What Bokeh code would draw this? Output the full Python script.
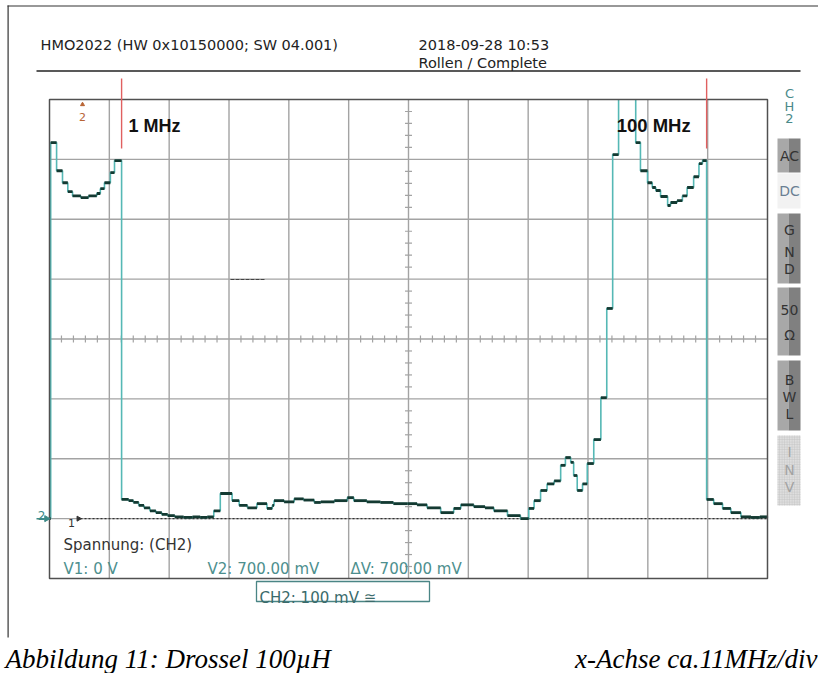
import math
from bokeh.plotting import figure
from bokeh.models import Range1d
from bokeh.core.properties import value
from bokeh.embed import file_html
from bokeh.resources import INLINE

# ---------------- data ----------------
# spectrum trace: step levels, frequency in MHz (start of each level), level in mV
freq_mhz = [-11.2, -11.0, -10.0, -9.0, -8.1, -7.3, -5.9, -4.6, -3.2, -2.6, -1.9, -0.9, -0.2,
            1.0, 2.2, 3.0, 3.9, 4.8, 5.8, 6.8, 7.8, 8.8, 10.0, 11.5, 13.0, 14.3, 15.5,
            16.6, 17.7, 19.7, 20.9, 22.3, 23.9, 25.6, 26.5, 26.8, 28.5, 30.2, 31.8, 33.6,
            34.7, 37.0, 39.2, 40.3, 42.5, 44.8, 47.0, 49.4, 51.0, 52.7, 55.0, 57.2, 58.4,
            60.6, 62.5, 64.0, 66.3, 68.5, 69.9, 70.8, 71.9, 73.0, 74.2, 75.3, 76.1, 77.0,
            77.5, 78.1, 79.0, 79.8, 80.9, 82.1, 83.1, 84.1, 85.1, 88.0, 88.8, 90.0, 90.8,
            91.4, 92.2, 93.4, 93.9, 95.0, 95.9, 96.7, 97.8, 98.7, 99.3, 100.0, 101.2,
            102.7, 104.1, 105.8, 107.5, 109.0, 110.3]
level_mv = [0, 628, 581, 561, 546, 539, 536, 539, 543, 551, 561, 578, 598,
            32, 30, 27, 22, 18, 13, 10, 7, 5, 3, 2, 3, 2, 3,
            13, 42, 30, 22, 18, 25, 17, 22, 30, 28, 33, 31, 27,
            28, 30, 35, 30, 28, 27, 25, 25, 23, 18, 10, 17, 23,
            20, 18, 13, 5, 0, 17, 30, 47, 58, 63, 89, 102, 94,
            72, 47, 58, 92, 132, 202, 351, 608, 800, 628, 581, 561, 553,
            548, 538, 523, 528, 531, 539, 553, 571, 593, 598, 32, 25,
            17, 10, 3, 2, 3, 2]

cursor_mhz = [1, 100]
cursor_labels = ["1 MHz", "100 MHz"]

x_min_mhz, x_max_mhz = -11.2, 110.3
y_min_mv, y_max_mv = -100, 700
x_divs, y_divs, minor_per_div = 12, 8, 5

header_left = "HMO2022 (HW 0x10150000; SW 04.001)"
header_date = "2018-09-28 10:53"
header_mode = "Rollen / Complete"
meas_title = "Spannung: (CH2)"
meas_values = ["V1: 0 V", "V2: 700.00 mV", "\u0394V: 700.00 mV"]
channel_box = "CH2: 100 mV \u2245"
side_buttons = [["AC"], ["DC"], ["G", "N", "D"], ["50", "\u03a9"], ["B", "W", "L"], ["I", "N", "V"]]
caption_left = "Abbildung 11: Drossel 100\u00b5H"
caption_right = "x-Achse ca.11MHz/div"

# ---------------- layout (reference pixel coordinates) ----------------
OX, OY, W, H = 0, 0, 818, 673
GL, GR, GT, GB = 49, 767, 99, 578

def px_to_f(px):
    return x_min_mhz + (px - GL) * (x_max_mhz - x_min_mhz) / (GR - GL)

def f_to_px(f):
    return GL + (f - x_min_mhz) * (GR - GL) / (x_max_mhz - x_min_mhz)

def py_to_mv(py):
    return y_max_mv - (py - GT) * (y_max_mv - y_min_mv) / (GB - GT)

def mv_to_py(mv):
    return GT + (y_max_mv - mv) * (GB - GT) / (y_max_mv - y_min_mv)

p = figure(width=W, height=H, x_range=Range1d(OX, OX + W), y_range=Range1d(OY + H, OY),
           x_axis_location=None, y_axis_location=None, toolbar_location=None,
           output_backend="svg", min_border=0, outline_line_color=None,
           background_fill_color="white", border_fill_color="white")
p.grid.visible = False
p.extra_x_ranges = {"f": Range1d(px_to_f(OX), px_to_f(OX + W))}
p.extra_y_ranges = {"mv": Range1d(py_to_mv(OY + H), py_to_mv(OY))}

def txt(x, y, s, size, color, font="DejaVu Sans", style="normal", align="left", baseline="alphabetic"):
    p.text(x=[x], y=[y], text=[s], text_font=value(font), text_font_size=value(f"{size}px"),
           text_color=color, text_font_style=value(style), text_align=value(align),
           text_baseline=value(baseline))

GRID_C = "#a3a3a3"
dx = (GR - GL) / x_divs
dy = (GB - GT) / y_divs

# grid
vx = [GL + k * dx for k in range(1, x_divs)]
p.segment(x0=vx, y0=[GT] * len(vx), x1=vx, y1=[GB] * len(vx), line_color=GRID_C, line_width=1.4)
hy = [GT + k * dy for k in range(1, y_divs)]
p.segment(x0=[GL] * len(hy), y0=hy, x1=[GR] * len(hy), y1=hy, line_color=GRID_C, line_width=1.4)

# minor ticks on the centre lines
cx = GL + (x_divs // 2) * dx
cy = GT + (y_divs // 2) * dy
ty = [GT + j * dy / minor_per_div for j in range(1, y_divs * minor_per_div) if j % minor_per_div]
p.segment(x0=[cx - 3.5] * len(ty), y0=ty, x1=[cx + 3.5] * len(ty), y1=ty, line_color=GRID_C, line_width=1.2)
tx = [GL + j * dx / minor_per_div for j in range(1, x_divs * minor_per_div) if j % minor_per_div]
p.segment(x0=tx, y0=[cy - 3.5] * len(tx), x1=tx, y1=[cy + 3.5] * len(tx), line_color=GRID_C, line_width=1.2)

# ground reference (dashed) and small mark in the middle
zy = mv_to_py(0)
p.segment(x0=[80], y0=[zy], x1=[GR], y1=[zy], line_color="#333333", line_width=1.1, line_dash="2 2")
p.segment(x0=[230], y0=[279], x1=[265], y1=[279], line_color="#444444", line_width=1, line_dash="4 1")

# trace
p.step(x=freq_mhz, y=level_mv, mode="after", line_color="#55b8b5", line_width=1.6,
       x_range_name="f", y_range_name="mv")
p.segment(x0=freq_mhz[:-1], y0=level_mv[:-1], x1=freq_mhz[1:], y1=level_mv[:-1],
          line_color="#143a32", line_width=2.8, x_range_name="f", y_range_name="mv")

# mask the off-screen part of the trace above the graticule
p.quad(left=[GL - 2], right=[GR + 2], top=[OY + 12], bottom=[GT - 0.6], fill_color="white", line_color=None)

# graticule border
p.quad(left=[GL], right=[GR], top=[GT], bottom=[GB], fill_color=None, line_color="#505050", line_width=1.5)

# cursors
p.segment(x0=cursor_mhz, y0=[py_to_mv(148)] * 2, x1=cursor_mhz, y1=[py_to_mv(78)] * 2,
          line_color="#e06060", line_width=1.4, x_range_name="f", y_range_name="mv")
txt(f_to_px(cursor_mhz[0]) + 7, 125, cursor_labels[0], 18, "#111111", font="Liberation Sans", style="bold")
txt(f_to_px(cursor_mhz[1]) - 90, 125, cursor_labels[1], 18.5, "#111111", font="Liberation Sans", style="bold")

# document frame
p.segment(x0=[7.6], y0=[5], x1=[7.6], y1=[637], line_color="#333333", line_width=1.2)
p.segment(x0=[7], y0=[5.5], x1=[818], y1=[5.5], line_color="#333333", line_width=1.2)

# header
txt(40, 44, header_left, 14.5, "#222222")
txt(418, 44, header_date, 14.5, "#222222")
txt(418, 62, header_mode, 14.5, "#222222")
p.segment(x0=[36], y0=[70.5], x1=[800], y1=[70.5], line_color="#222222", line_width=1.5)

# channel / cursor markers
txt(41, 515, "2", 12, "#3d8a88", align="center")
p.segment(x0=[36], y0=[zy], x1=[45], y1=[zy], line_color="#3d8a88", line_width=1.5)
p.scatter(x=[46], y=[zy], marker="triangle", size=6, angle=-math.pi / 2, fill_color="#3d8a88", line_color="#3d8a88")
txt(71, 522, "1", 11, "#333333", align="center")
p.scatter(x=[78], y=[zy], marker="triangle", size=5, angle=-math.pi / 2, fill_color="#333333", line_color="#333333")
txt(82, 116, "2", 11, "#b86434", align="center")
p.scatter(x=[82], y=[104], marker="triangle", size=4, fill_color="#b86434", line_color="#b86434")

# measurement readout
txt(63, 544, meas_title, 15, "#333333")
txt(63, 568, meas_values[0], 15, "#4d8f8e")
txt(207, 568, meas_values[1], 15, "#4d8f8e")
txt(350, 568, meas_values[2], 15, "#4d8f8e")
p.quad(left=[256], right=[429], top=[581], bottom=[601], fill_color="white", line_color="#4a8585", line_width=1.3)
txt(259, 597, channel_box, 15, "#3b6b6b")

# side panel
for i, ch in enumerate(["C", "H", "2"]):
    txt(789, 93 + i * 12.5, ch, 13, "#4a8a8a", align="center", baseline="middle")

btn_tops = [138, 173, 213, 287, 360, 435]
btn_bots = [172, 208, 283, 355, 430, 505]
letter_y = [[155], [190], [229, 251, 268], [309, 334], [379, 396, 413], [451, 469, 486]]
for i, letters in enumerate(side_buttons):
    t, b = btn_tops[i], btn_bots[i]
    if i == 1:
        p.quad(left=[777], right=[800], top=[t], bottom=[b], fill_color="#f2f2f2", line_color=None)
        col = "#6a7f92"
    elif i == 5:
        p.quad(left=[777], right=[800], top=[t], bottom=[b], fill_color="#dedede", line_color=None,
               hatch_pattern="cross", hatch_color="#c4c4c4", hatch_scale=2.5, hatch_weight=0.6)
        col = "#a2a2a2"
    else:
        p.quad(left=[777], right=[788], top=[t], bottom=[b], fill_color="#a8a8a8", line_color=None)
        p.quad(left=[788], right=[800], top=[t], bottom=[b], fill_color="#808080", line_color=None)
        col = "#333333"
    for s, yy in zip(letters, letter_y[i]):
        txt(789, yy, s, 14, col, align="center", baseline="middle")

# caption
txt(5, 658, caption_left, 27, "#000000", font="Liberation Serif", style="italic")
txt(817, 658, caption_right, 27, "#000000", font="Liberation Serif", style="italic", align="right")

open("out.html", "w").write(file_html(p, INLINE))
